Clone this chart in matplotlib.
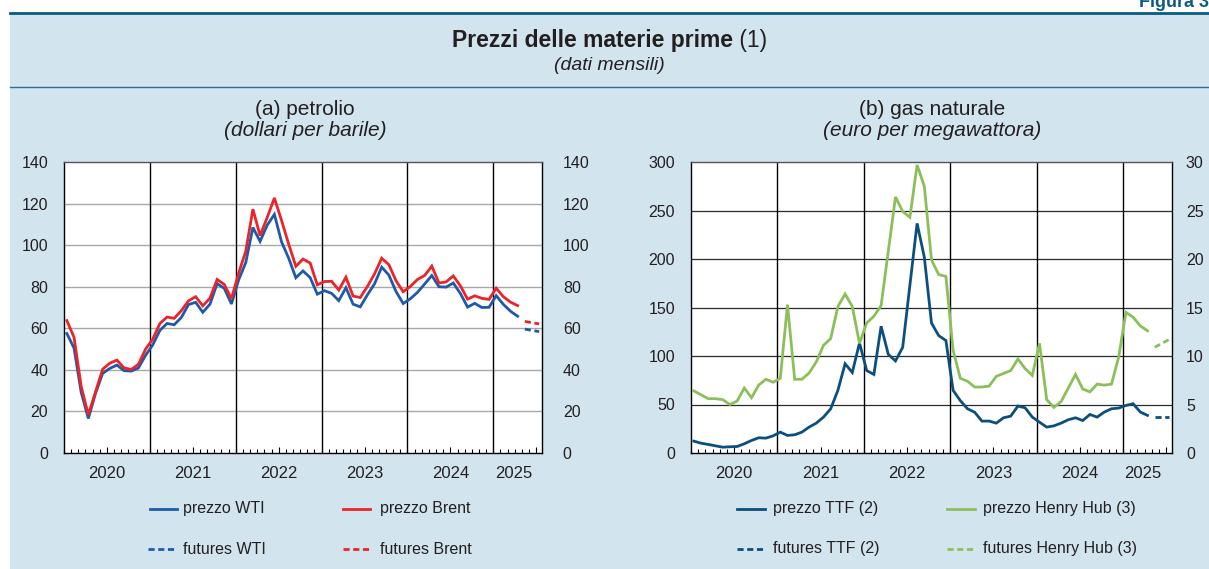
import matplotlib
matplotlib.use('Agg')
import matplotlib.pyplot as plt
from matplotlib.lines import Line2D
from matplotlib.patches import Rectangle
import matplotlib.transforms as mtransforms
import numpy as np

plt.rcParams['font.family'] = ['Liberation Sans', 'DejaVu Sans']

# ---------------- data (monthly, Jan 2020 = month 0) ----------------
years = ['2020', '2021', '2022', '2023', '2024', '2025']

wti = [57.5, 50.5, 29.2, 16.6, 28.6, 38.3, 40.7, 42.3, 39.6, 39.4, 40.9, 47.0,
       52.0, 59.0, 62.3, 61.7, 65.2, 71.4, 72.5, 67.7, 71.6, 81.5, 79.2, 71.7,
       83.2, 91.6, 108.5, 101.8, 109.6, 114.8, 101.6, 93.7, 84.3, 87.6, 84.4, 76.4,
       78.1, 76.8, 73.3, 79.5, 71.6, 70.3, 76.1, 81.4, 89.4, 85.6, 77.7, 71.9,
       74.2, 77.3, 81.3, 85.4, 80.0, 79.8, 81.8, 76.7, 70.2, 72.0, 70.0, 70.1,
       75.7, 71.5, 68.2, 65.8]
brent = [63.7, 55.7, 32.0, 18.4, 29.4, 40.3, 43.2, 44.7, 40.9, 40.2, 42.7, 50.0,
         54.8, 62.3, 65.4, 64.8, 68.5, 73.2, 75.2, 70.8, 74.5, 83.5, 81.1, 74.2,
         86.5, 97.1, 117.3, 104.6, 113.3, 122.7, 111.9, 100.5, 89.8, 93.3, 91.4, 80.9,
         82.5, 82.6, 78.4, 84.6, 75.5, 74.8, 80.1, 86.2, 93.7, 90.6, 82.9, 77.6,
         80.1, 83.5, 85.4, 89.9, 81.8, 82.3, 85.2, 80.4, 74.0, 75.6, 74.4, 73.9,
         79.3, 75.2, 72.6, 70.9]
wti_fut = [59.6, 59.0, 58.4]
brent_fut = [63.3, 62.7, 62.1]

ttf = [12.2, 10.1, 8.8, 7.4, 6.0, 6.4, 6.7, 9.5, 12.9, 15.7, 15.3, 17.7,
       21.5, 18.1, 18.8, 21.5, 26.7, 30.8, 37.0, 45.6, 64.6, 92.0, 83.0, 113.4,
       85.0, 81.0, 130.7, 101.7, 94.9, 109.0, 173.0, 236.7, 202.0, 134.0, 121.0, 116.0,
       64.6, 54.0, 45.6, 42.0, 32.9, 32.9, 30.8, 36.3, 38.0, 48.4, 46.6, 37.0,
       31.8, 26.7, 28.0, 30.8, 34.3, 36.3, 33.5, 39.7, 37.0, 42.2, 45.6, 46.3,
       49.0, 50.8, 42.2, 38.8]
hh = [6.4, 6.0, 5.6, 5.6, 5.5, 5.0, 5.35, 6.7, 5.7, 7.0, 7.6, 7.3,
      7.7, 15.3, 7.6, 7.6, 8.25, 9.4, 11.1, 11.8, 15.1, 16.4, 15.1, 11.3,
      13.4, 14.1, 15.2, 20.8, 26.4, 24.9, 24.3, 29.7, 27.5, 19.9, 18.4, 18.2,
      10.6, 7.7, 7.4, 6.8, 6.8, 6.9, 7.9, 8.2, 8.5, 9.7, 8.7, 8.0,
      11.3, 5.5, 4.7, 5.3, 6.7, 8.1, 6.6, 6.3, 7.1, 7.0, 7.1, 9.9,
      14.5, 14.0, 13.1, 12.6]
ttf_fut = [37.0, 37.0, 37.0]
hh_fut = [10.9, 11.3, 11.7]

# ---------------- styling ----------------
W, H, DPI = 1209, 569, 100
BG = '#d2e4ee'
TXT = '#231f20'
C_WTI = '#1f5aa8'
C_BRENT = '#ec2329'
C_TTF = '#0c4f7e'
C_HH = '#8cbf5a'

fig = plt.figure(figsize=(W / DPI, H / DPI), dpi=DPI)
fig.patch.set_facecolor('white')


def fx(x):
    return x / W


def fy(y):
    return 1 - y / H


fig.add_artist(Rectangle((fx(10), 0), 1 - fx(10), fy(13), transform=fig.transFigure,
                         facecolor=BG, edgecolor='none', zorder=0))
fig.add_artist(Line2D([fx(10), 1], [fy(13), fy(13)], transform=fig.transFigure,
                      color='#0b5a82', lw=2.0, zorder=1))
fig.add_artist(Line2D([fx(10), 1], [fy(87), fy(87)], transform=fig.transFigure,
                      color='#2b6f95', lw=1.0, zorder=1))

fig.text(fx(1139), fy(7), 'Figura 3', fontsize=13, fontweight='bold',
         color='#0b5a82', va='baseline', ha='left')

# title (bold + regular)
r = fig.canvas.get_renderer()
t1 = fig.text(0, fy(47), 'Prezzi delle materie prime', fontsize=16.5,
              fontweight='bold', va='baseline', ha='left', color=TXT)
t2 = fig.text(0, fy(47), '\u00a0(1)', fontsize=16.5, va='baseline', ha='left', color=TXT)
w1 = t1.get_window_extent(r).width
w2 = t2.get_window_extent(r).width
x0 = 609.5 - (w1 + w2) / 2
t1.set_x(fx(x0))
t2.set_x(fx(x0 + w1))
fig.text(fx(609.5), fy(65), '(dati mensili)', fontsize=14, style='italic',
         ha='center', va='center', color=TXT)


def make_axes(left, right, top=162, bottom=453):
    return fig.add_axes([fx(left), fy(bottom), (right - left) / W, (bottom - top) / H])


XMAX = 66.8
OFF = 0.4


def style(ax, ymax, ystep, gridcolor, gridlw, lpad, rmax, rstep, rpad):
    ax.set_facecolor('white')
    ax.set_xlim(0, XMAX)
    ax.set_ylim(0, ymax)
    yt = np.arange(0, ymax + 1, ystep)
    ax.set_yticks(yt)
    for v in yt[1:-1]:
        ax.axhline(v, color=gridcolor, lw=gridlw, zorder=1)
    for k in range(1, 6):
        ax.axvline(12 * k, color='black', lw=1.0, zorder=1.5)
    ax.set_xticks(np.arange(6, 67, 12))
    ax.set_xticks(np.arange(0, 67), minor=True)
    ax.tick_params(axis='x', which='major', direction='in', length=4.5, width=0.8,
                   labelbottom=False, color='black')
    ax.tick_params(axis='x', which='minor', direction='in', length=2.8, width=0.8,
                   color='black')
    ax.tick_params(axis='y', length=0, labelsize=11.5, pad=lpad, labelcolor=TXT)
    for s in ax.spines.values():
        s.set_color('black')
        s.set_linewidth(1.0)
    ax.spines['top'].set_color('#555555')
    ax2 = ax.twinx()
    ax2.set_ylim(0, rmax)
    ax2.set_yticks(np.arange(0, rmax + 0.001, rstep))
    ax2.tick_params(axis='y', length=0, labelsize=11.5, pad=rpad, labelcolor=TXT)
    for s in ax2.spines.values():
        s.set_visible(False)
    # year labels
    tr = mtransforms.blended_transform_factory(ax.transData, fig.transFigure)
    centers = [6, 18, 30, 42, 54, 62.8]
    for c, lab in zip(centers, years):
        ax.text(c, fy(473), lab, transform=tr, ha='center', va='center',
                fontsize=12, color=TXT)
    return ax2


x_hist = np.arange(len(wti)) + OFF
x_fut = np.arange(len(wti), len(wti) + len(wti_fut)) + OFF

# ---------- left panel: oil ----------
axL = make_axes(64, 542)
axL2 = style(axL, 140, 20, '#a8a8a8', 1.0, 11.5, 140, 20, 15)
axL.plot(x_hist, wti, color=C_WTI, lw=2.0, zorder=3, solid_joinstyle='miter')
axL.plot(x_hist, brent, color=C_BRENT, lw=2.0, zorder=3.2, solid_joinstyle='miter')
axL.plot(x_fut, wti_fut, color=C_WTI, lw=2.0, ls=(0, (2.2, 1.3)), zorder=3)
axL.plot(x_fut, brent_fut, color=C_BRENT, lw=2.0, ls=(0, (2.2, 1.3)), zorder=3)
fig.text(fx(305), fy(110), '(a) petrolio', fontsize=15, ha='center', va='center', color=TXT)
fig.text(fx(305), fy(131), '(dollari per barile)', fontsize=15, style='italic',
         ha='center', va='center', color=TXT)

# ---------- right panel: gas ----------
axR = make_axes(691, 1172)
axR2 = style(axR, 300, 50, '#2a2a2a', 0.9, 11.5, 30, 5, 10)
axR.plot(x_hist, ttf, color=C_TTF, lw=2.0, zorder=3.5, solid_joinstyle='miter')
axR.plot(x_fut, ttf_fut, color=C_TTF, lw=2.0, ls=(0, (2.2, 1.3)), zorder=3.5)
axR2.plot(x_hist, hh, color=C_HH, lw=2.0, zorder=3, solid_joinstyle='miter')
axR2.plot(x_fut, hh_fut, color=C_HH, lw=2.0, ls=(0, (2.2, 1.3)), zorder=3)
fig.text(fx(932), fy(110), '(b) gas naturale', fontsize=15, ha='center', va='center', color=TXT)
fig.text(fx(932), fy(131), '(euro per megawattora)', fontsize=15, style='italic',
         ha='center', va='center', color=TXT)


# ---------- legends ----------
def legend_entry(x1, x2, y, color, ls, label, tx):
    fig.add_artist(Line2D([fx(x1), fx(x2)], [fy(y), fy(y)], transform=fig.transFigure,
                          color=color, lw=2.0, ls=ls))
    fig.text(fx(tx), fy(y), label, fontsize=11.5, ha='left', va='center', color=TXT)


dash = (0, (2.2, 1.3))
legend_entry(150, 177, 509, C_WTI, '-', 'prezzo WTI', 183)
legend_entry(343, 370, 509, C_BRENT, '-', 'prezzo Brent', 380)
legend_entry(148, 177, 549, C_WTI, dash, 'futures WTI', 183)
legend_entry(343, 372, 549, C_BRENT, dash, 'futures Brent', 380)

legend_entry(737, 765, 509, C_TTF, '-', 'prezzo TTF (2)', 773)
legend_entry(947, 975, 509, C_HH, '-', 'prezzo Henry Hub (3)', 983)
legend_entry(737, 765, 549, C_TTF, dash, 'futures TTF (2)', 773)
legend_entry(947, 975, 549, C_HH, dash, 'futures Henry Hub (3)', 983)

fig.savefig('out.png', dpi=DPI, facecolor=fig.get_facecolor())
